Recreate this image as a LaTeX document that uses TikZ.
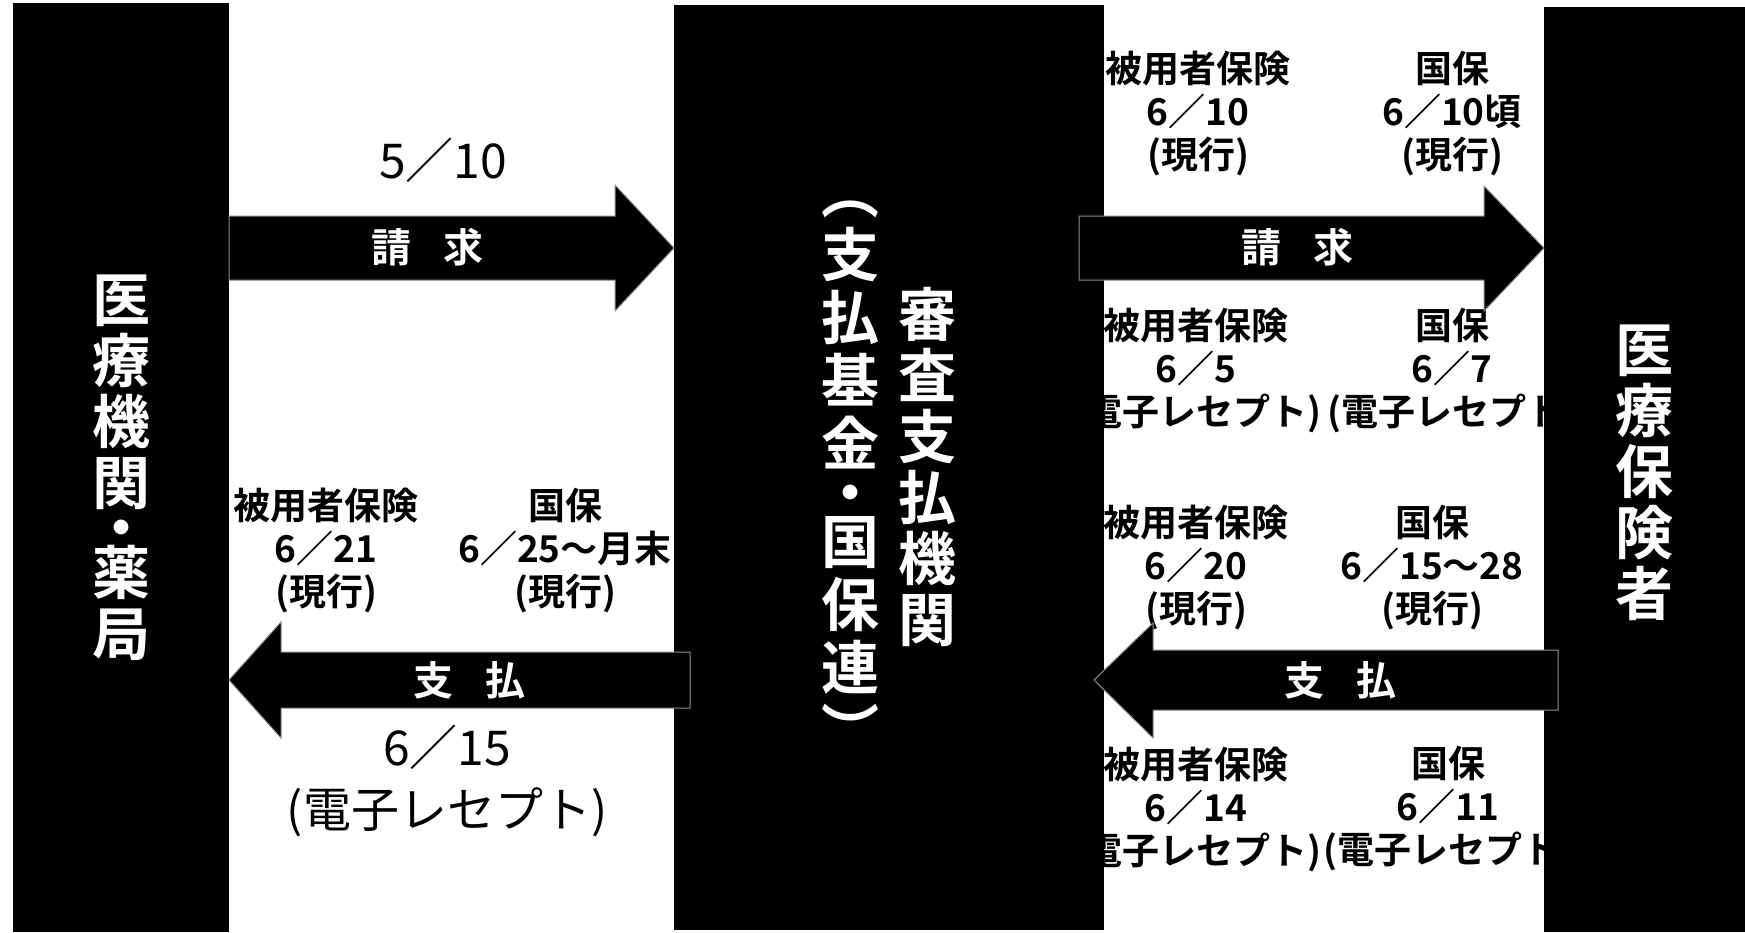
\documentclass[tikz,border=0pt]{standalone}
\usepackage{fontspec}
\setmainfont{Noto Sans CJK JP}[BoldFont={Noto Sans CJK JP Bold}]
\tikzset{
  panel/.style={fill=black, inner sep=0pt, outer sep=0pt},
  bartitle/.style={text=white, align=center, inner sep=0pt, font=\fontsize{58}{61}\selectfont\bfseries},
  datelabel/.style={align=center, inner sep=0pt, font=\fontsize{37}{43}\selectfont\bfseries},
  bigdate/.style={align=center, inner sep=0pt, font=\fontsize{48}{62}\selectfont},
  flowlabel/.style={text=white, inner sep=0pt, font=\fontsize{40}{40}\selectfont\bfseries},
  blockarrow/.style={fill=black, draw=black!45, line width=1pt, line join=miter}
}
\begin{document}
\begin{tikzpicture}[x=1pt,y=-1pt]
\useasboundingbox (0,0) rectangle (1745,932);
\fill[white] (0,0) rectangle (1745,932);

% dates
\node[bigdate] (req1date) at (443,160) {5／10};
\node[bigdate] (pay1date) at (447,781) {6／15\\(電子レセプト)};
\node[datelabel] (pay1emp) at (326,551) {被用者保険\\6／21\\(現行)};
\node[datelabel] (pay1nat) at (565,551) {国保\\6／25～月末\\(現行)};
\node[datelabel] (req2emp) at (1198,114) {被用者保険\\6／10\\(現行)};
\node[datelabel] (req2nat) at (1452,114) {国保\\6／10頃\\(現行)};
\node[datelabel] (req2empe) at (1196,371) {被用者保険\\6／5\\(電子レセプト)};
\node[datelabel] (req2nate) at (1452,371) {国保\\6／7\\(電子レセプト)};
\node[datelabel] (pay2emp) at (1196,568) {被用者保険\\6／20\\(現行)};
\node[datelabel] (pay2nat) at (1432,568) {国保\\6／15～28\\(現行)};
\node[datelabel] (pay2empe) at (1196,809) {被用者保険\\6／14\\(電子レセプト)};
\node[datelabel] (pay2nate) at (1448,809) {国保\\6／11\\(電子レセプト)};

% bars
\node[panel, minimum width=216, minimum height=929] (clinic) at (121,467.5) {};
\node[panel, minimum width=430, minimum height=925] (review) at (889,467.5) {};
\node[panel, minimum width=201, minimum height=925] (payer) at (1644.5,469.5) {};
\node[bartitle] (clinictitle) at (clinic.center |- 0,468) {医\\療\\機\\関\\[-16pt]・\\[-16pt]薬\\局};
\node[bartitle] (reviewtitle) at (927,467) {審\\査\\支\\払\\機\\関};
\node[bartitle, font=\fontsize{58}{63}\selectfont\bfseries] (reviewsub) at (850,477)
  {︵\\支\\払\\基\\金\\[-14pt]・\\[-14pt]国\\保\\連\\︶};
\node[bartitle] (payertitle) at (payer.center |- 0,473) {医\\療\\保\\険\\者};

% arrows
\draw[blockarrow] (clinic.east |- 0,216) -- (615,216) -- (615,185) -- (review.west |- 0,248)
  -- (615,311) -- (615,280) -- (clinic.east |- 0,280) -- cycle;
\draw[blockarrow] (1079,216) -- (1484,216) -- (1484,186) -- (payer.west |- 0,248)
  -- (1484,311) -- (1484,280) -- (1079,280) -- cycle;
\draw[blockarrow] (clinic.east |- 0,680) -- (281,622) -- (281,652) -- (690,652)
  -- (690,708) -- (281,708) -- (281,738) -- cycle;
\draw[blockarrow] (1094,680) -- (1153,623) -- (1153,650) -- (1558,650)
  -- (1558,710) -- (1153,710) -- (1153,738) -- cycle;
\node[flowlabel] (req1label) at (427,247) {請\hspace{0.8em}求};
\node[flowlabel] (req2label) at (1297,247) {請\hspace{0.8em}求};
\node[flowlabel] (pay1label) at (469,680) {支\hspace{0.8em}払};
\node[flowlabel] (pay2label) at (1340,680) {支\hspace{0.8em}払};
\end{tikzpicture}
\end{document}
